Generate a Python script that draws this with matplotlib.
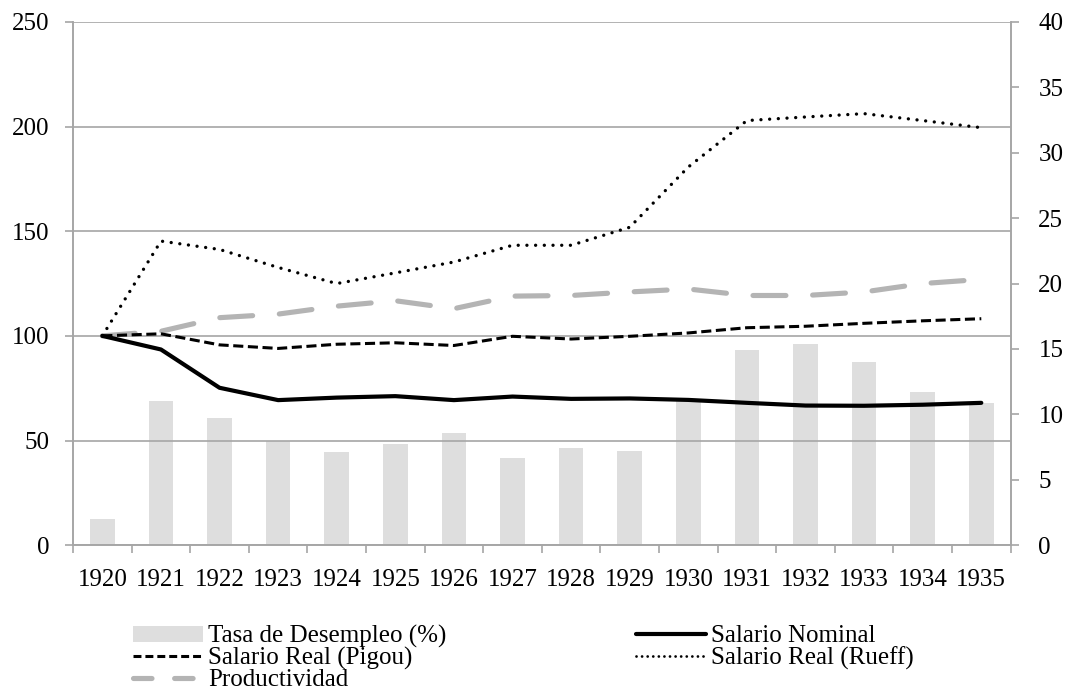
import matplotlib
matplotlib.use("Agg")
import matplotlib.pyplot as plt
from matplotlib.lines import Line2D
import numpy as np

years = [str(y) for y in range(1920, 1936)]
desempleo = [2.0, 11.0, 9.7, 8.0, 7.1, 7.7, 8.6, 6.7, 7.45, 7.2, 11.0, 14.9, 15.4, 14.0, 11.7, 10.9]
nominal = [100, 93.5, 75.2, 69.3, 70.5, 71.2, 69.3, 71.0, 69.9, 70.1, 69.4, 68.0, 66.7, 66.6, 67.1, 68.0]
pigou = [100, 101.0, 95.7, 94.0, 96.0, 96.7, 95.4, 99.8, 98.5, 99.8, 101.4, 103.9, 104.6, 106.0, 107.2, 108.2]
rueff = [100, 145.3, 141.3, 132.7, 125.0, 130.1, 135.3, 143.3, 143.3, 151.9, 180.7, 202.9, 204.6, 206.2, 202.9, 199.5]
productividad = [100, 102.2, 108.7, 110.4, 114.2, 116.8, 113.0, 119.0, 119.3, 121.0, 122.4, 119.3, 119.3, 121.0, 125.0, 127.0]

plt.rcParams['font.family'] = ['Liberation Serif', 'DejaVu Serif']
fs = 18

fig = plt.figure(figsize=(10.82, 6.98), dpi=100)
ax = fig.add_axes([0.0675, 0.219, 0.8665, 0.7495])
ax2 = ax.twinx()
x = np.arange(len(years))
grid_c = '#a6a6a6'

bars = ax2.bar(x, desempleo, width=0.42, color='#dedede', label='Tasa de Desempleo (%)', zorder=1)
ax2.set_ylim(0, 40)
ax2.set_yticks(range(0, 41, 5))

ax.set_zorder(ax2.get_zorder() + 1)
ax.patch.set_visible(False)

l1, = ax.plot(x, nominal, color='black', lw=3.0, solid_capstyle='round', label='Salario Nominal', zorder=4)
l2, = ax.plot(x, pigou, color='black', lw=2.2, linestyle=(0, (3.3, 1.5)), label='Salario Real (Pigou)', zorder=4)
l3, = ax.plot(x, rueff, color='black', lw=2.4, linestyle=(0, (0.01, 2.6)), dash_capstyle='round', label='Salario Real (Rueff)', zorder=4)
l4, = ax.plot(x, productividad, color='#b4b4b4', lw=3.7, linestyle=(0, (6.4, 5.2)), dash_capstyle='round', label='Productividad', zorder=3)

ax.set_ylim(0, 250)
ax.set_yticks(range(0, 251, 50))
ax.set_xlim(-0.5, len(years) - 0.5)
ax.set_xticks(x)
ax.set_xticklabels(years)
ax.set_xticks(np.arange(-0.5, len(years), 1), minor=True)
ax.tick_params(axis='x', which='major', length=0, pad=17, labelsize=fs)
ax.tick_params(axis='x', which='minor', length=6, color=grid_c, width=1.2)
ax.tick_params(axis='y', length=6, color=grid_c, width=1.2, labelsize=fs, pad=11)
ax2.tick_params(axis='y', length=6, color=grid_c, width=1.2, labelsize=fs, pad=14)
ax.yaxis.grid(True, color=grid_c, lw=1.2)
ax.set_axisbelow(True)

for a in (ax, ax2):
    for s in a.spines.values():
        s.set_color(grid_c)
        s.set_linewidth(1.2)
    a.spines['top'].set_visible(False)

# legend proxies (Excel draws legend dashes with its own spacing)
h_pigou = Line2D([], [], color='black', lw=2.2, linestyle=(0, (2.6, 1.3)))
h_prod = Line2D([], [], color='#b4b4b4', lw=3.7, linestyle=(0, (3.6, 4.4)), dash_capstyle='round')
h_rueff = Line2D([], [], color='black', lw=2.0, linestyle=(0, (0.01, 2.0)), dash_capstyle='round')

handles = [bars, h_pigou, h_prod, l1, h_rueff]
labels = ['Tasa de Desempleo (%)', 'Salario Real (Pigou)', 'Productividad',
          'Salario Nominal', 'Salario Real (Rueff)']
leg = fig.legend(handles, labels, loc='upper left', bbox_to_anchor=(0.1229, 0.105),
                 ncol=2, frameon=False, fontsize=fs, handlelength=2.8, handletextpad=0.2,
                 labelspacing=-0.04, columnspacing=7.6, borderaxespad=0, borderpad=0,
                 handleheight=0.6)

fig.savefig('out.png', dpi=100)
